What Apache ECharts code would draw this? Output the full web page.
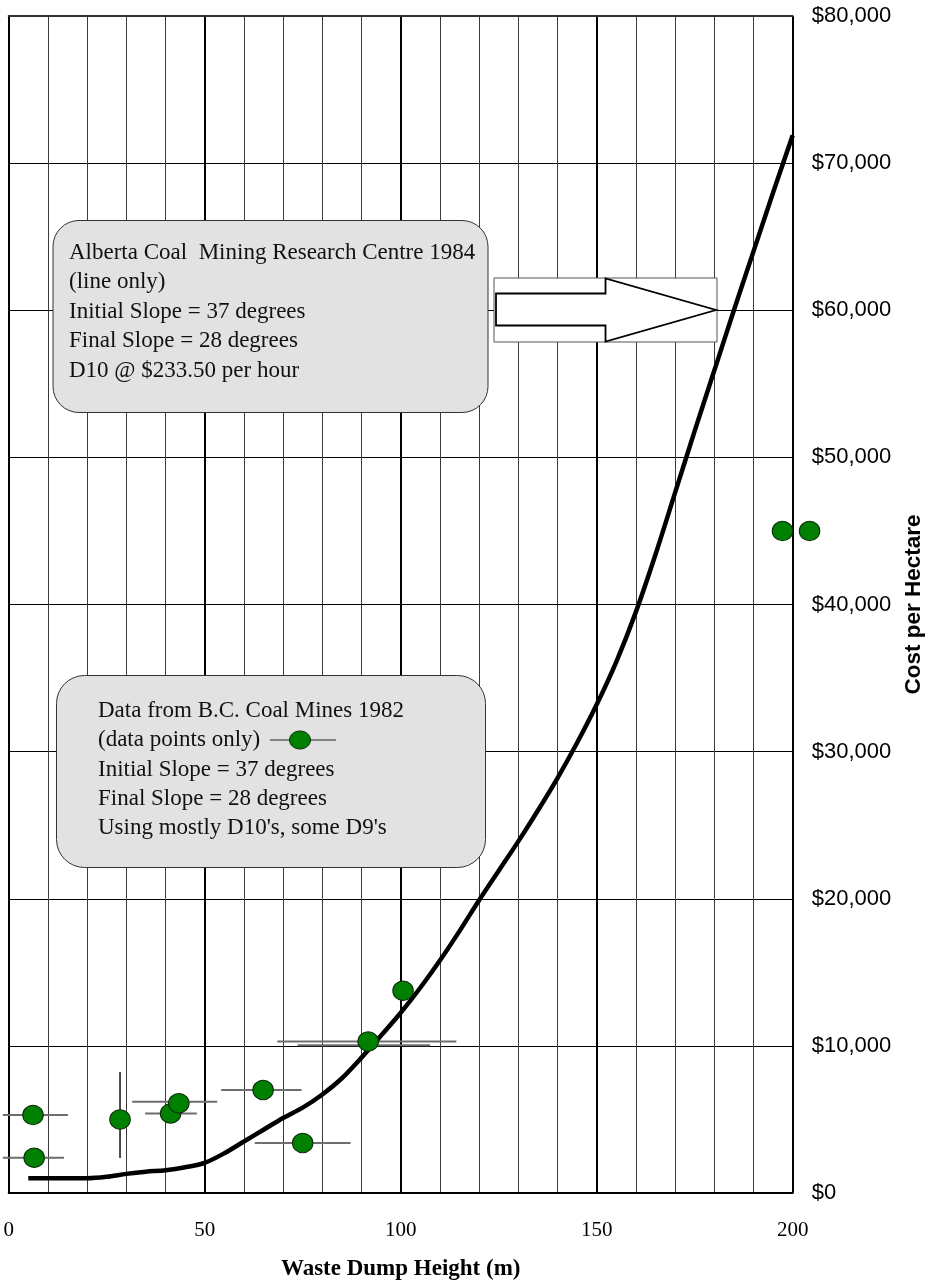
<!DOCTYPE html>
<html>
<head>
<meta charset="utf-8">
<script src="https://cdn.jsdelivr.net/npm/echarts@6/dist/echarts.min.js"></script>
<style>
html,body{margin:0;padding:0;background:#fff;}
#chart{width:928px;height:1281px;}
</style>
</head>
<body>
<div id="chart"></div>
<script>
// ---- data ----
var curveX = [5,10,15,20,25,30,35,40,45,50,55,60,65,70,75,80,85,90,95,100,105,110,115,120,125,130,135,140,145,150,155,160,165,170,175,180,185,190,195,200];
var curveY = [1000,1000,1000,1000,1100,1300,1450,1550,1750,2050,2700,3500,4300,5100,5800,6700,7800,9200,10700,12250,13950,15800,17800,19900,21900,23900,26000,28200,30600,33200,36100,39500,43400,47600,51800,55900,60000,64000,68000,71900];

var pointX = [6.2, 6.5, 28.4, 41.3, 43.4, 64.9, 75.0, 91.7, 100.6, 197.4, 204.3];
var pointY = [5300, 2400, 5000, 5400, 6100, 7000, 3400, 10300, 13750, 45000, 45000];

// horizontal error bars: y, x-low, x-high
var hErrY    = [5300, 2400, 5400, 6200, 7000, 3400, 10300, 10050];
var hErrLow  = [-1.5, -1.5, 34.8, 31.5, 54.2, 62.8, 68.5, 73.7];
var hErrHigh = [15.1, 14.1, 48.0, 53.2, 74.7, 87.2, 114.2, 107.5];
// vertical error bars: x, y-low, y-high
var vErrX    = [28.4];
var vErrLow  = [2380];
var vErrHigh = [8230];

var xTicks = [0, 50, 100, 150, 200];
var yTicks = [0, 10000, 20000, 30000, 40000, 50000, 60000, 70000, 80000];

var box1Lines = ['Alberta Coal  Mining Research Centre 1984', '(line only)', 'Initial Slope = 37 degrees', 'Final Slope = 28 degrees', 'D10 @ $233.50 per hour'];
var box2Lines = ['Data from B.C. Coal Mines 1982', '(data points only)', 'Initial Slope = 37 degrees', 'Final Slope = 28 degrees', "Using mostly D10's, some D9's"];

var xName = 'Waste Dump Height (m)';
var yName = 'Cost per Hectare';

// ---- build ----
var SERIF = "'Liberation Serif','Times New Roman',serif";
var SANS = "'Liberation Sans',Arial,sans-serif";

var curveData = curveX.map(function (x, i) { return [x, curveY[i]]; });
var pointData = pointX.map(function (x, i) { return [x, pointY[i]]; });
var hErrData = hErrY.map(function (y, i) { return [hErrLow[i], hErrHigh[i], y]; });
var vErrData = vErrX.map(function (x, i) { return [x, vErrLow[i], vErrHigh[i]]; });

function fmtMoney(v) {
  return '$' + String(v).replace(/\B(?=(\d{3})+(?!\d))/g, ',');
}

var chart = echarts.init(document.getElementById('chart'), null, {renderer: 'canvas'});

var option = {
  backgroundColor: '#fff',
  animation: false,
  grid: {left: 8.7, right: 135.3, top: 16, bottom: 88, containLabel: false, outerBoundsMode: 'none'},
  xAxis: [{
    type: 'value', min: xTicks[0], max: xTicks[xTicks.length - 1], interval: 50,
    axisLine: {show: true, lineStyle: {color: '#000', width: 2}},
    axisTick: {show: false},
    minorTick: {show: false, splitNumber: 5},
    axisLabel: {
      margin: 27, color: '#000', fontFamily: SERIF, fontSize: 21,
      formatter: function (v) { return xTicks.indexOf(v) >= 0 ? String(v) : ''; }
    },
    splitLine: {show: true, lineStyle: {color: '#000', width: 2}},
    minorSplitLine: {show: true, lineStyle: {color: '#3a3a3a', width: 1}},
    name: xName, nameLocation: 'middle', nameGap: 65,
    nameTextStyle: {fontFamily: SERIF, fontSize: 23, fontWeight: 'bold', color: '#000'}
  }, {
    type: 'value', position: 'top', min: 0, max: 200,
    axisLine: {show: true, lineStyle: {color: '#333', width: 2}},
    axisTick: {show: false}, axisLabel: {show: false}, splitLine: {show: false}
  }],
  yAxis: [{
    type: 'value', position: 'right', min: yTicks[0], max: yTicks[yTicks.length - 1], interval: 10000,
    axisLine: {show: true, lineStyle: {color: '#000', width: 2}},
    axisTick: {show: false},
    axisLabel: {
      margin: 19, color: '#000', fontFamily: SANS, fontSize: 22,
      formatter: function (v) { return fmtMoney(v); }
    },
    splitLine: {show: true, lineStyle: {color: '#000', width: 1}},
    name: yName, nameLocation: 'middle', nameGap: 108, nameRotate: 90,
    nameTextStyle: {fontFamily: SANS, fontSize: 22.5, fontWeight: 'bold', color: '#000'}
  }],
  series: [{
    type: 'custom',
    name: 'hErr',
    clip: false,
    z: 3,
    renderItem: function (params, api) {
      var p1 = api.coord([api.value(0), api.value(2)]);
      var p2 = api.coord([api.value(1), api.value(2)]);
      return {type: 'line', shape: {x1: p1[0], y1: p1[1], x2: p2[0], y2: p2[1]},
        style: {stroke: '#6e6e6e', lineWidth: 2}};
    },
    data: hErrData
  }, {
    type: 'custom',
    name: 'vErr',
    clip: false,
    z: 3,
    renderItem: function (params, api) {
      var p1 = api.coord([api.value(0), api.value(1)]);
      var p2 = api.coord([api.value(0), api.value(2)]);
      return {type: 'line', shape: {x1: p1[0], y1: p1[1], x2: p2[0], y2: p2[1]},
        style: {stroke: '#111', lineWidth: 1.5}};
    },
    data: vErrData
  }, {
    type: 'line',
    name: 'curve',
    data: curveData,
    showSymbol: false,
    smooth: 0.3,
    z: 4,
    lineStyle: {color: '#000', width: 4.5}
  }, {
    type: 'scatter',
    name: 'points',
    data: pointData,
    clip: false,
    symbol: 'circle',
    symbolSize: [20.5, 19.5],
    z: 5,
    itemStyle: {color: '#008000', borderColor: '#0a2a0a', borderWidth: 1, opacity: 1}
  }],
  graphic: [
    // Box 1
    {type: 'rect', left: 52.5, top: 220, z: 50,
      shape: {width: 435, height: 192, r: 26},
      style: {fill: '#e2e2e2', stroke: '#333', lineWidth: 1}},
    {type: 'text', left: 69, top: 238, z: 51,
      style: {text: box1Lines.join('\n'), font: '23px ' + SERIF, fill: '#111', lineHeight: 29.5}},
    // Box 2
    {type: 'rect', left: 56, top: 675, z: 50,
      shape: {width: 429, height: 192, r: 28},
      style: {fill: '#e2e2e2', stroke: '#333', lineWidth: 1}},
    {type: 'text', left: 98, top: 696.5, z: 51,
      style: {text: box2Lines.join('\n'), font: '23px ' + SERIF, fill: '#111', lineHeight: 29.2}},
    {type: 'line', z: 51, shape: {x1: 270, y1: 740, x2: 336, y2: 740},
      style: {stroke: '#222', lineWidth: 1}},
    {type: 'ellipse', z: 52, shape: {cx: 300, cy: 740, rx: 10.5, ry: 9},
      style: {fill: '#008000', stroke: '#0a2a0a', lineWidth: 1}},
    // Arrow
    {type: 'rect', z: 50, shape: {x: 494, y: 278, width: 223, height: 64},
      style: {fill: '#fff', stroke: '#555', lineWidth: 1}},
    {type: 'polygon', z: 51,
      shape: {points: [[496, 293.5], [605.5, 293.5], [605.5, 278.5], [716, 310], [605.5, 341.5], [605.5, 325.5], [496, 325.5]]},
      style: {fill: '#fff', stroke: '#000', lineWidth: 1.8}}
  ]
};

chart.setOption(option);
</script>
</body>
</html>
